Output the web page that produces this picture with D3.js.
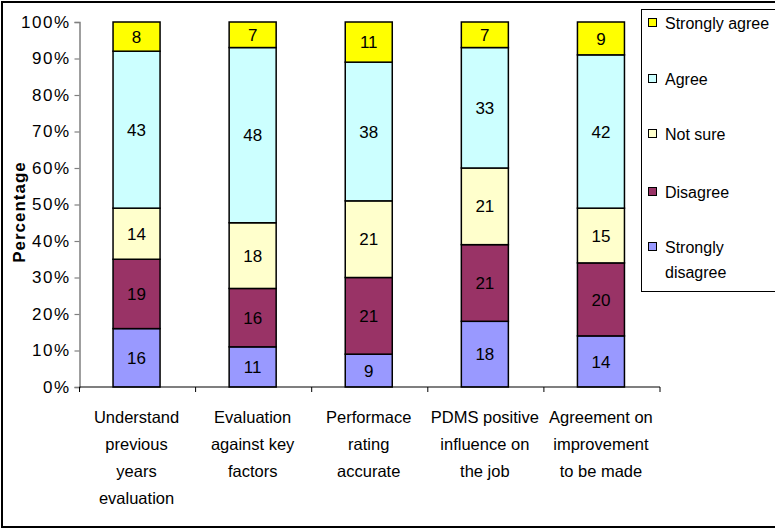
<!DOCTYPE html>
<html>
<head>
<meta charset="utf-8">
<script src="https://cdn.jsdelivr.net/npm/d3@7"></script>
<style>
  html, body { margin: 0; padding: 0; background: #fff; }
  svg { display: block; font-family: "Liberation Sans", Arial, sans-serif; }
</style>
</head>
<body>
<svg id="chart" width="775" height="529"></svg>
<script>
// Survey responses (%) per statement, stacked from bottom to top
const categories = [
  ["Understand", "previous", "years", "evaluation"],
  ["Evaluation", "against key", "factors"],
  ["Performace", "rating", "accurate"],
  ["PDMS positive", "influence on", "the job"],
  ["Agreement on", "improvement", "to be made"]
];
const seriesNames = ["Strongly disagree", "Disagree", "Not sure", "Agree", "Strongly agree"];
const stronglyDisagree = [16, 11, 9, 18, 14];
const disagree         = [19, 16, 21, 21, 20];
const notSure          = [14, 18, 21, 21, 15];
const agree            = [43, 48, 38, 33, 42];
const stronglyAgree    = [8, 7, 11, 7, 9];
const yTicks = [0, 10, 20, 30, 40, 50, 60, 70, 80, 90, 100];
const colors = ["#9999FF", "#993366", "#FFFFCC", "#CCFFFF", "#FFFF00"];

const seriesValues = [stronglyDisagree, disagree, notSure, agree, stronglyAgree];
const rows = categories.map((c, i) => {
  const r = { key: i };
  seriesNames.forEach((s, j) => { r[s] = seriesValues[j][i]; });
  return r;
});
const stacked = d3.stack().keys(seriesNames)(rows);

const svg = d3.select("#chart");

// Outer frame
svg.append("rect")
  .attr("x", 2).attr("y", 2).attr("width", 790).attr("height", 525)
  .attr("fill", "none").attr("stroke", "#000").attr("stroke-width", 2);

const plotLeft = 79.5, plotRight = 660, plotTop = 22, plotBottom = 387;

const x = d3.scaleBand().domain(d3.range(categories.length)).range([plotLeft, plotRight]).padding(0);
const y = d3.scaleLinear().domain([0, 100]).range([plotBottom, plotTop]);
const barW = x.bandwidth() * 0.405;

// Y axis
const yAxis = svg.append("g")
  .attr("transform", `translate(${plotLeft},0)`)
  .call(d3.axisLeft(y).tickValues(yTicks).tickFormat(d => d + "%").tickSize(5).tickPadding(4));
yAxis.select(".domain").attr("stroke", "#808080").attr("stroke-width", 1.5);
yAxis.selectAll(".tick line").attr("stroke", "#808080").attr("stroke-width", 1.2);
yAxis.selectAll(".tick text")
  .attr("font-size", 17).attr("fill", "#000")
  .attr("letter-spacing", 1.5)
  .attr("font-family", "Liberation Sans, Arial, sans-serif");

// Bars
const layers = svg.append("g").selectAll("g")
  .data(stacked).join("g")
  .attr("fill", (d, i) => colors[i]);

layers.selectAll("rect")
  .data(d => d).join("rect")
  .attr("x", (d, i) => x(i) + (x.bandwidth() - barW) / 2 - 1)
  .attr("y", d => y(d[1]))
  .attr("width", barW)
  .attr("height", d => y(d[0]) - y(d[1]))
  .attr("stroke", "#000").attr("stroke-width", 1.5);

// Segment value labels
layers.selectAll("text")
  .data(d => d).join("text")
  .attr("x", (d, i) => x(i) + x.bandwidth() / 2 - 1)
  .attr("y", d => (y(d[0]) + y(d[1])) / 2)
  .attr("dy", "0.36em")
  .attr("text-anchor", "middle")
  .attr("font-size", 17)
  .attr("fill", "#000")
  .text(d => d[1] - d[0]);

// X axis
const xAxisG = svg.append("g").attr("transform", `translate(0,${plotBottom})`);
xAxisG.append("line")
  .attr("x1", plotLeft).attr("x2", plotRight).attr("y1", 0).attr("y2", 0)
  .attr("stroke", "#000").attr("stroke-width", 1.2);
xAxisG.selectAll("line.tick")
  .data(d3.range(categories.length + 1)).join("line")
  .attr("class", "tick")
  .attr("x1", i => plotLeft + i * x.step()).attr("x2", i => plotLeft + i * x.step())
  .attr("y1", 0).attr("y2", 5)
  .attr("stroke", "#000").attr("stroke-width", 1);

const catLabels = svg.append("g").selectAll("text")
  .data(categories).join("text")
  .attr("text-anchor", "middle")
  .attr("font-size", 16.5)
  .attr("fill", "#000");
catLabels.selectAll("tspan")
  .data((d, i) => d.map(t => ({ t, i })))
  .join("tspan")
  .attr("x", d => x(d.i) + x.bandwidth() / 2 - 1)
  .attr("y", (d, j) => 423 + j * 27)
  .text(d => d.t);

// Y axis title
svg.append("text")
  .attr("transform", "translate(25,212) rotate(-90)")
  .attr("text-anchor", "middle")
  .attr("font-size", 17)
  .attr("font-weight", "bold")
  .attr("letter-spacing", 1)
  .text("Percentage");

// Legend
const legend = svg.append("g");
legend.append("rect")
  .attr("x", 641.5).attr("y", 9.5).attr("width", 150).attr("height", 282)
  .attr("fill", "#fff").attr("stroke", "#000").attr("stroke-width", 1);

const legendItems = [
  { lines: ["Strongly agree"], c: 4, y: 23 },
  { lines: ["Agree"], c: 3, y: 79 },
  { lines: ["Not sure"], c: 2, y: 134 },
  { lines: ["Disagree"], c: 1, y: 192 },
  { lines: ["Strongly", "disagree"], c: 0, y: 247 }
];
const li = legend.selectAll("g.item").data(legendItems).join("g").attr("class", "item");
li.append("rect")
  .attr("x", 648.5).attr("y", d => d.y - 4.5)
  .attr("width", 8).attr("height", 8)
  .attr("fill", d => colors[d.c]).attr("stroke", "#000").attr("stroke-width", 1);
li.append("text")
  .attr("font-size", 16).attr("fill", "#000")
  .selectAll("tspan").data(d => d.lines.map((t, k) => ({ t, k, y: d.y })))
  .join("tspan")
  .attr("x", 665)
  .attr("y", d => d.y + d.k * 25)
  .attr("dy", "0.36em")
  .text(d => d.t);
</script>
</body>
</html>
